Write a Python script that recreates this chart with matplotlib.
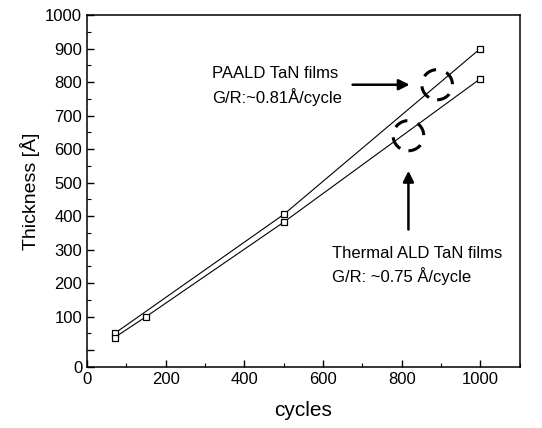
import matplotlib
matplotlib.use("Agg")
import matplotlib.pyplot as plt
from matplotlib.patches import Ellipse
from matplotlib.ticker import MultipleLocator

plt.rcParams['font.family'] = ['Liberation Sans', 'DejaVu Sans']

# Data
paald_cycles = [70, 500, 1000]
paald_thick = [50, 405, 900]
thermal_cycles = [70, 150, 500, 1000]
thermal_thick = [38, 100, 382, 810]

ytick_vals = [-50, 0, 100, 200, 300, 400, 500, 600, 700, 800, 900, 1000]
ytick_labels = ['0', '', '100', '200', '300', '400', '500', '600', '700', '800', '900', '1000']
xtick_vals = [0, 200, 400, 600, 800, 1000]

fig = plt.figure(figsize=(5.42, 4.28), dpi=100)
ax = fig.add_axes([0.1605, 0.1425, 0.7985, 0.8225])

for xs, ys in [(paald_cycles, paald_thick), (thermal_cycles, thermal_thick)]:
    ax.plot(xs, ys, color='black', lw=0.8, marker='s', markersize=5,
            markerfacecolor='white', markeredgecolor='black', markeredgewidth=0.9)

ax.set_xlim(0, 1100)
ax.set_ylim(-50, 1000)
ax.set_xticks(xtick_vals)
ax.xaxis.set_minor_locator(MultipleLocator(100))
ax.set_yticks(ytick_vals)
ax.set_yticklabels(ytick_labels)
ax.yaxis.set_minor_locator(MultipleLocator(50))
ax.tick_params(which='both', direction='in', labelsize=12, top=False, right=False)
ax.tick_params(which='major', length=5, width=1)
ax.tick_params(which='minor', length=3, width=0.8)
for s in ax.spines.values():
    s.set_linewidth(1.1)

ax.set_xlabel('cycles', fontsize=15, labelpad=10)
ax.set_ylabel('Thickness [Å]', fontsize=14, labelpad=4)

# dashed circles
for cx, cy in [(890, 792), (817, 640)]:
    e = Ellipse((cx, cy), width=78, height=90, fill=False, edgecolor='black',
                lw=2.2, linestyle=(0, (4.5, 3.5)), angle=0)
    ax.add_patch(e)

# arrows
ax.annotate('', xy=(820, 792), xytext=(675, 792),
            arrowprops=dict(arrowstyle='-|>', color='black', lw=1.8,
                            mutation_scale=16, shrinkA=0, shrinkB=0))
ax.annotate('', xy=(817, 535), xytext=(817, 360),
            arrowprops=dict(arrowstyle='-|>', color='black', lw=1.8,
                            mutation_scale=16, shrinkA=0, shrinkB=0))

ax.text(318, 825, 'PAALD TaN films', fontsize=12, va='center', ha='left')
ax.text(318, 755, 'G/R:~0.81Å/cycle', fontsize=12, va='center', ha='left')
ax.text(624, 290, 'Thermal ALD TaN films', fontsize=12, va='center', ha='left')
ax.text(624, 220, 'G/R: ~0.75 Å/cycle', fontsize=12, va='center', ha='left')

fig.savefig('out.png', dpi=100)
